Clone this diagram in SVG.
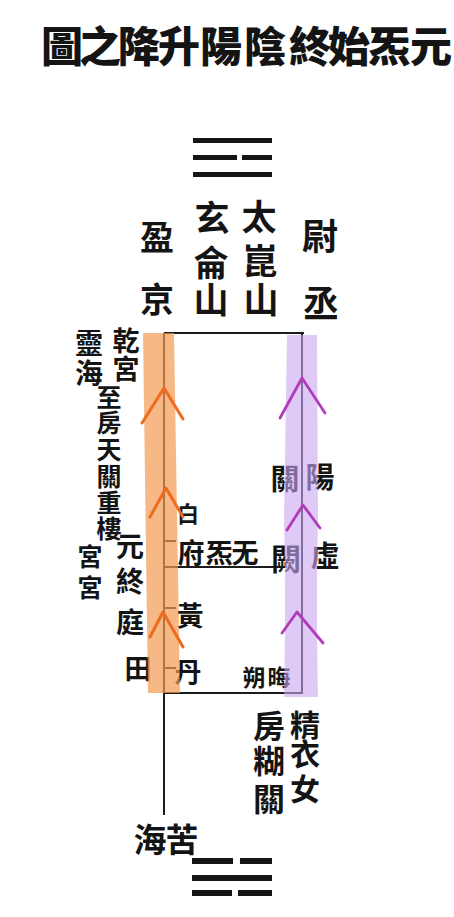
<svg xmlns="http://www.w3.org/2000/svg" width="454" height="917" viewBox="0 0 454 917">
<style>
.t{font-family:"Noto Sans CJK TC","Noto Sans CJK SC",serif;fill:#141414;text-anchor:middle;font-weight:700}
.ln{stroke:#1c1c1c;stroke-width:2;fill:none}
.bar{fill:#151515}
.oc{stroke:#EE6A1C;stroke-width:3;fill:none;stroke-linecap:round;stroke-linejoin:round}
.pc{stroke:#B03DB8;stroke-width:2.8;fill:none;stroke-linecap:round;stroke-linejoin:round}
</style>
<rect width="454" height="917" fill="#ffffff"/>

<g id="title">
<text class="t" style="font-weight:900" font-size="42" x="62 100 139 179 221 265 310 349 389 431" y="62 62 62 62 62 62 62 62 62 62">圖之降升陽陰終始炁元</text>
</g>

<g id="trigram-top">
<rect class="bar" x="193" y="138" width="79" height="5"/>
<rect class="bar" x="193" y="155" width="44" height="5"/>
<rect class="bar" x="242" y="155" width="30" height="5"/>
<rect class="bar" x="193" y="172" width="79" height="5"/>
</g>

<g id="top-labels">
<text class="t" font-size="34" x="157 157" y="250 312">盈京</text>
<text class="t" font-size="35" x="212 211 211" y="231 276 313">玄侖山</text>
<text class="t" font-size="35" x="259 260 261" y="230 274 313">太崑山</text>
<text class="t" font-size="36" x="320 321" y="250 317">尉丞</text>
</g>

<g id="connectors">
<line class="ln" x1="164" y1="333" x2="304" y2="333"/>
<line class="ln" x1="164" y1="333" x2="164" y2="815"/>
<line class="ln" x1="302" y1="333" x2="302" y2="694"/>
<line class="ln" x1="164" y1="693" x2="302" y2="693"/>
<line class="ln" x1="164" y1="567" x2="283" y2="567" stroke-width="1.6"/>
<line class="ln" x1="164" y1="541" x2="176" y2="541" stroke-width="1.5"/>
<line class="ln" x1="164" y1="608" x2="176" y2="608" stroke-width="1.5"/>
<line class="ln" x1="164" y1="668" x2="176" y2="668" stroke-width="1.5"/>
</g>

<g id="left-labels">
<text class="t" font-size="27" x="126 126" y="351 379">乾宮</text>
<text class="t" font-size="28" x="89 89" y="354 384">靈海</text>
<text class="t" font-size="25" x="109 109 109 109 109 109" y="407 432 459 486 512 538">至房天關重樓</text>
<text class="t" font-size="28" x="130 130 130" y="557 592 633">元終庭</text>
<text class="t" font-size="27" x="138" y="679">田</text>
<text class="t" font-size="25" x="90 90" y="566 597">宮宮</text>
</g>

<g id="middle-labels">
<text class="t" font-size="22" x="188" y="522">白</text>
<text class="t" font-size="27" x="191 219 245" y="563 563 563">府炁无</text>
<text class="t" font-size="27" x="190" y="626">黃</text>
<text class="t" font-size="27" x="188" y="682">丹</text>
<text class="t" font-size="23" x="254 279" y="686 686">朔晦</text>
</g>

<g id="right-labels">
<text class="t" font-size="29" x="285 320" y="490 488">關陽</text>
<text class="t" font-size="30" x="286" y="570">闕</text>
<text class="t" font-size="29" x="325" y="567">虛</text>
<text class="t" font-size="32" x="269 269 269" y="738 773 811">房糊關</text>
<text class="t" font-size="30" x="305 305 305" y="736 765 800">精衣女</text>
</g>

<g id="bottom-labels">
<text class="t" font-size="33" x="150 182" y="852 852">海苦</text>
</g>

<g id="trigram-bottom">
<rect class="bar" x="192" y="858" width="41" height="6"/>
<rect class="bar" x="240" y="858" width="32" height="6"/>
<rect class="bar" x="192" y="875" width="80" height="6"/>
<rect class="bar" x="192" y="890" width="40" height="6"/>
<rect class="bar" x="238" y="890" width="34" height="6"/>
</g>

<g id="yin-channel">
<polygon points="143,333 174,333 180,693 148,693" fill="#F29A50" fill-opacity="0.7"/>
<polyline class="oc" points="142,423 164,388 183,419"/>
<polyline class="oc" points="150,517 166,488 183,517"/>
<polyline class="oc" points="150,637 163,612 183,647"/>
</g>

<g id="yang-channel">
<path d="M287,335 L317,335 L318,520 Q316,600 318,697 L284,697 Q286,600 284,520 Z" fill="#C9A5F0" fill-opacity="0.6"/>
<polyline class="pc" points="280,418 302,378 325,413"/>
<polyline class="pc" points="287,530 303,505 320,528"/>
<polyline class="pc" points="282,633 297,612 323,643"/>
</g>
</svg>
